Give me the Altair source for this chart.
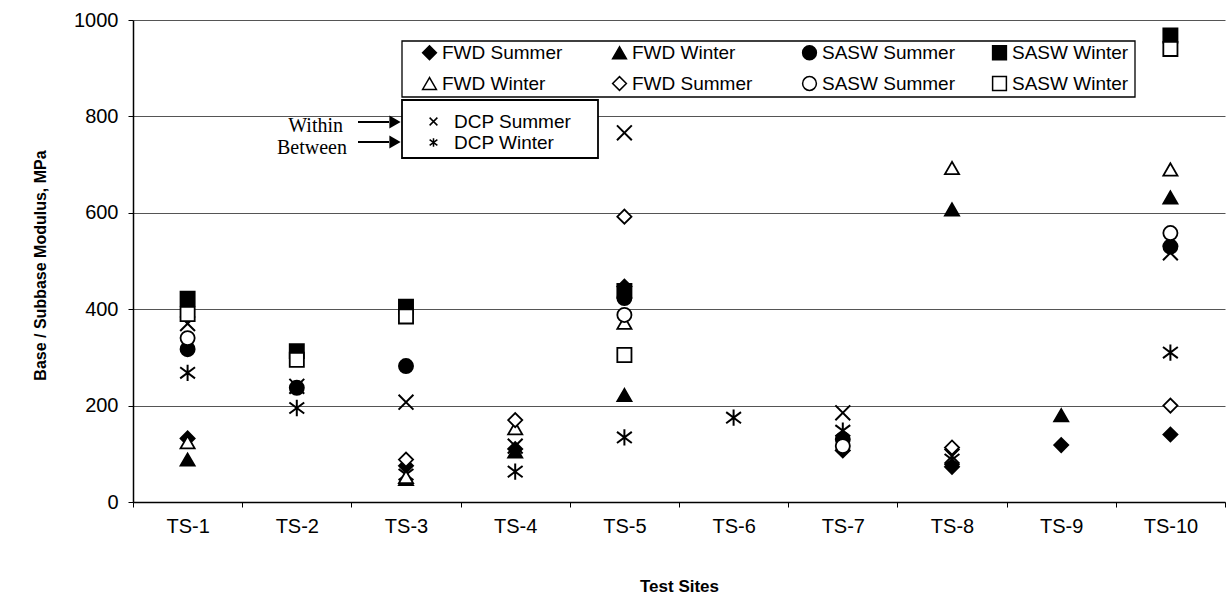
import altair as alt
import pandas as pd

sites = ["TS-1", "TS-2", "TS-3", "TS-4", "TS-5", "TS-6", "TS-7", "TS-8", "TS-9", "TS-10"]

# Base / subbase modulus (MPa) at each test site; None = not measured there
fwd_summer_a = [132, None, 75, 110, 447, None, 107, 73, 118, 140]
fwd_winter_a = [88, None, 48, 105, 222, None, None, 607, 180, 632]
sasw_summer_a = [317, 237, 282, None, 423, None, 130, None, None, 530]
sasw_winter_a = [422, 313, 405, None, 438, None, None, None, None, 968]
fwd_winter_b = [124, None, 52, 153, 372, None, None, 693, None, 690]
fwd_summer_b = [None, None, 88, 170, 592, None, None, 113, None, 200]
sasw_summer_b = [340, None, None, None, 388, None, 116, None, None, 558]
sasw_winter_b = [390, 295, 385, None, 305, None, None, None, None, 940]
dcp_summer = [370, 240, 207, 116, 766, None, 185, 95, None, 517]
dcp_winter = [268, 195, 57, 63, 134, 175, 148, 88, None, 310]

y_ticks = [0, 200, 400, 600, 800, 1000]

# FWD / SASW series (drawing order); the legend label follows the "|"
main_series = [
    ("1|FWD Summer", fwd_summer_a),
    ("2|FWD Winter", fwd_winter_a),
    ("3|SASW Summer", sasw_summer_a),
    ("4|SASW Winter", sasw_winter_a),
    ("5|FWD Winter", fwd_winter_b),
    ("6|FWD Summer", fwd_summer_b),
    ("7|SASW Summer", sasw_summer_b),
    ("8|SASW Winter", sasw_winter_b),
]
marker_shape = {
    "1|FWD Summer": "diamond", "2|FWD Winter": "triangle-up",
    "3|SASW Summer": "circle", "4|SASW Winter": "square",
    "5|FWD Winter": "triangle-up", "6|FWD Summer": "diamond",
    "7|SASW Summer": "circle", "8|SASW Winter": "square",
}
# legend grid fills column by column: solid marker above its hollow twin
legend_order = ["1|FWD Summer", "5|FWD Winter", "2|FWD Winter", "6|FWD Summer",
                "3|SASW Summer", "7|SASW Summer", "4|SASW Winter", "8|SASW Winter"]
legend_shapes = [marker_shape[k] for k in legend_order]
legend_fills = ["black" if int(k[0]) <= 4 else "white" for k in legend_order]

dcp_series = [("DCP Summer", dcp_summer), ("DCP Winter", dcp_winter)]
dcp_keys = [k for k, _ in dcp_series]
cross_path = "M-1,-1L1,1M-1,1L1,-1"
star_path = "M-1,-0.75L1,0.75M-1,0.75L1,-0.75M0,-1.1L0,1.1"


def long_table(series):
    rows = []
    for key, vals in series:
        for site, v in zip(sites, vals):
            if v is not None:
                rows.append({"site": site, "series": key, "value": v})
    return pd.DataFrame(rows)


main_df = long_table(main_series)
dcp_df = long_table(dcp_series)

FONT = "Liberation Sans"
SERIF = "Liberation Serif"

x_enc = alt.X(
    "site:N",
    sort=sites,
    scale=alt.Scale(type="band", domain=sites, paddingInner=0, paddingOuter=0),
    axis=alt.Axis(
        title="Test Sites",
        titleFont=FONT, titleFontSize=17, titleFontWeight="bold",
        titleY=84, titleBaseline="middle",
        labelFont=FONT, labelFontSize=20, labelColor="black", labelAngle=0,
        labelPadding=9,
        tickBand="extent", tickColor="black", tickSize=5,
        domainColor="black", domainWidth=1.5, grid=False,
    ),
)
y_enc = alt.Y(
    "value:Q",
    scale=alt.Scale(domain=[0, 1000], nice=False),
    axis=alt.Axis(
        title="Base / Subbase  Modulus, MPa",
        titleFont=FONT, titleFontSize=16, titleFontWeight="bold",
        titleX=-93, titleY=245, titleBaseline="middle", titleAngle=-90,
        values=y_ticks, format="d",
        labelFont=FONT, labelFontSize=20, labelColor="black",
        labelPadding=10, tickColor="black", tickSize=5,
        domainColor="black", domainWidth=1.5,
        grid=True, gridColor="#555555", gridWidth=1,
    ),
)

main_legend = alt.Legend(
    title=None, orient="none", legendX=287, legendY=23, columns=4,
    gridAlign="all", columnPadding=33, rowPadding=10, padding=0,
    symbolOffset=0, labelOffset=3,
    labelFont=FONT, labelFontSize=19, labelColor="black",
    labelExpr="substring(datum.label, 2)",
    symbolSize=190, symbolStrokeColor="black", symbolStrokeWidth=1.5,
)

one = pd.DataFrame({"k": [0]})

# legend frames (white fill hides the gridline passing behind them)
frame_main = alt.Chart(one).mark_rect(
    fill="white", stroke="black", strokeWidth=1.3
).encode(x=alt.value(269), x2=alt.value(1002), y=alt.value(21), y2=alt.value(77))
frame_dcp = alt.Chart(one).mark_rect(
    fill="white", stroke="black", strokeWidth=1.8
).encode(x=alt.value(269), x2=alt.value(465), y=alt.value(80), y2=alt.value(138))

dcp_layer = alt.Chart(dcp_df).mark_point(
    filled=False, stroke="black", strokeWidth=2, size=220, opacity=1
).encode(
    x=x_enc,
    y=y_enc,
    shape=alt.Shape(
        "series:N",
        scale=alt.Scale(domain=dcp_keys, range=[cross_path, star_path]),
        legend=alt.Legend(
            title=None, orient="none", legendX=291, legendY=92,
            rowPadding=1, padding=0, symbolOffset=0, labelOffset=11,
            labelFont=FONT, labelFontSize=19, labelColor="black",
            symbolSize=60, symbolStrokeColor="black", symbolStrokeWidth=1.5,
            symbolFillColor="transparent",
        ),
    ),
)

main_layer = alt.Chart(main_df).mark_point(
    filled=True, stroke="black", strokeWidth=1.8, size=200, opacity=1
).encode(
    x=alt.X("site:N", sort=sites),
    y=alt.Y("value:Q"),
    shape=alt.Shape("series:N", scale=alt.Scale(domain=legend_order, range=legend_shapes),
                    legend=main_legend),
    color=alt.Color("series:N", scale=alt.Scale(domain=legend_order, range=legend_fills),
                    legend=main_legend),
)

within_text = alt.Chart(one).mark_text(
    text="Within", font=SERIF, fontSize=20, align="right", baseline="middle"
).encode(x=alt.value(210), y=alt.value(106))
between_text = alt.Chart(one).mark_text(
    text="Between", font=SERIF, fontSize=20, align="right", baseline="middle"
).encode(x=alt.value(214), y=alt.value(128))

within_shaft = alt.Chart(one).mark_rule(color="black", strokeWidth=2).encode(
    x=alt.value(225), x2=alt.value(256), y=alt.value(102))
between_shaft = alt.Chart(one).mark_rule(color="black", strokeWidth=2).encode(
    x=alt.value(225), x2=alt.value(256), y=alt.value(122))
within_head = alt.Chart(one).mark_point(
    shape="triangle-right", filled=True, color="black", size=170, opacity=1
).encode(x=alt.value(262), y=alt.value(102))
between_head = alt.Chart(one).mark_point(
    shape="triangle-right", filled=True, color="black", size=170, opacity=1
).encode(x=alt.value(262), y=alt.value(122))

chart = alt.layer(
    dcp_layer, main_layer, frame_main, frame_dcp,
    within_text, between_text, within_shaft, between_shaft, within_head, between_head,
).resolve_scale(
    shape="independent", color="independent"
).properties(
    width=1092, height=482,
    autosize=alt.AutoSizeParams(type="none"),
    padding={"left": 133, "top": 20, "right": 6, "bottom": 97},
    background="white",
).configure_view(stroke=None)

chart.save("out.html", embed_options={"renderer": "svg", "actions": False})
